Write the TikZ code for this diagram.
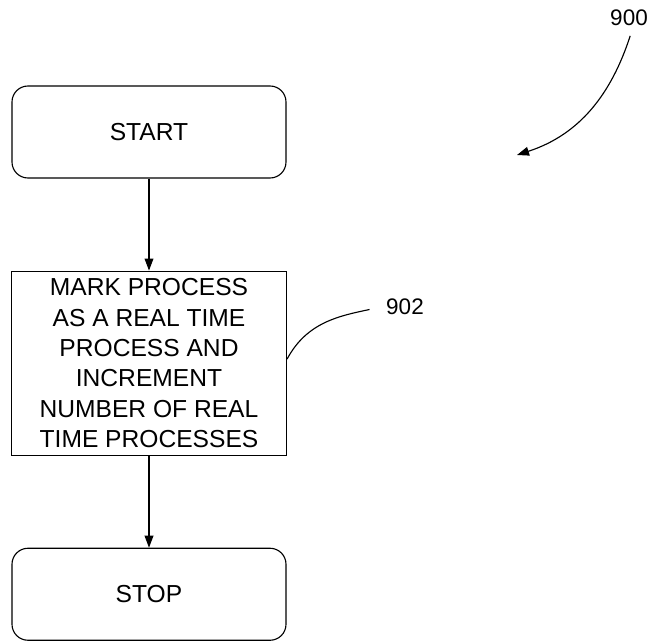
\documentclass[tikz,border=0pt]{standalone}
\usepackage{fontspec}
\setmainfont{Liberation Sans}
\usetikzlibrary{positioning,arrows.meta}
\tikzset{term/.style={draw,rounded corners=0.4cm,minimum width=6.85cm,minimum height=2.3cm,line width=0.8pt},
         proc/.style={draw,minimum width=6.875cm,minimum height=4.6cm,align=center,line width=0.8pt},
         flow/.style={-{Triangle[length=0.3cm,width=0.22cm]},line width=0.8pt},
         lead/.style={line width=0.8pt}
}

\begin{document}
\begin{tikzpicture}[node distance=2.3cm,font=\fontsize{17.5}{21.6}\selectfont]
       \useasboundingbox (0,0) rectangle (16.375,-16.025);
       \node[term] (start) at (3.725,-3.3) {START};
       \node[proc, below=of start] (mark) {MARK PROCESS\\AS A REAL TIME\\PROCESS AND\\INCREMENT\\NUMBER OF REAL\\TIME PROCESSES};
       \node[term, below=of mark] (stop) {STOP};
       \draw[flow] (start) -- (mark);
       \draw[flow] (mark) -- (stop);
       % reference numerals
       \node[font=\fontsize{16}{18}\selectfont] (n902) at (10.125,-7.675) {902};
       \draw[lead, shorten >=0.3cm] ([yshift=0.1cm]mark.east) to[out=62,in=192] (n902.west);
       \node[font=\fontsize{16}{18}\selectfont] (n900) at (15.725,-0.45) {900};
       \coordinate (tip900) at (12.925,-3.875);
       \draw[flow, shorten <=0.13cm] ([xshift=0.07cm]n900.south) to[out=252,in=18] (tip900);
     \end{tikzpicture}
\end{document}
